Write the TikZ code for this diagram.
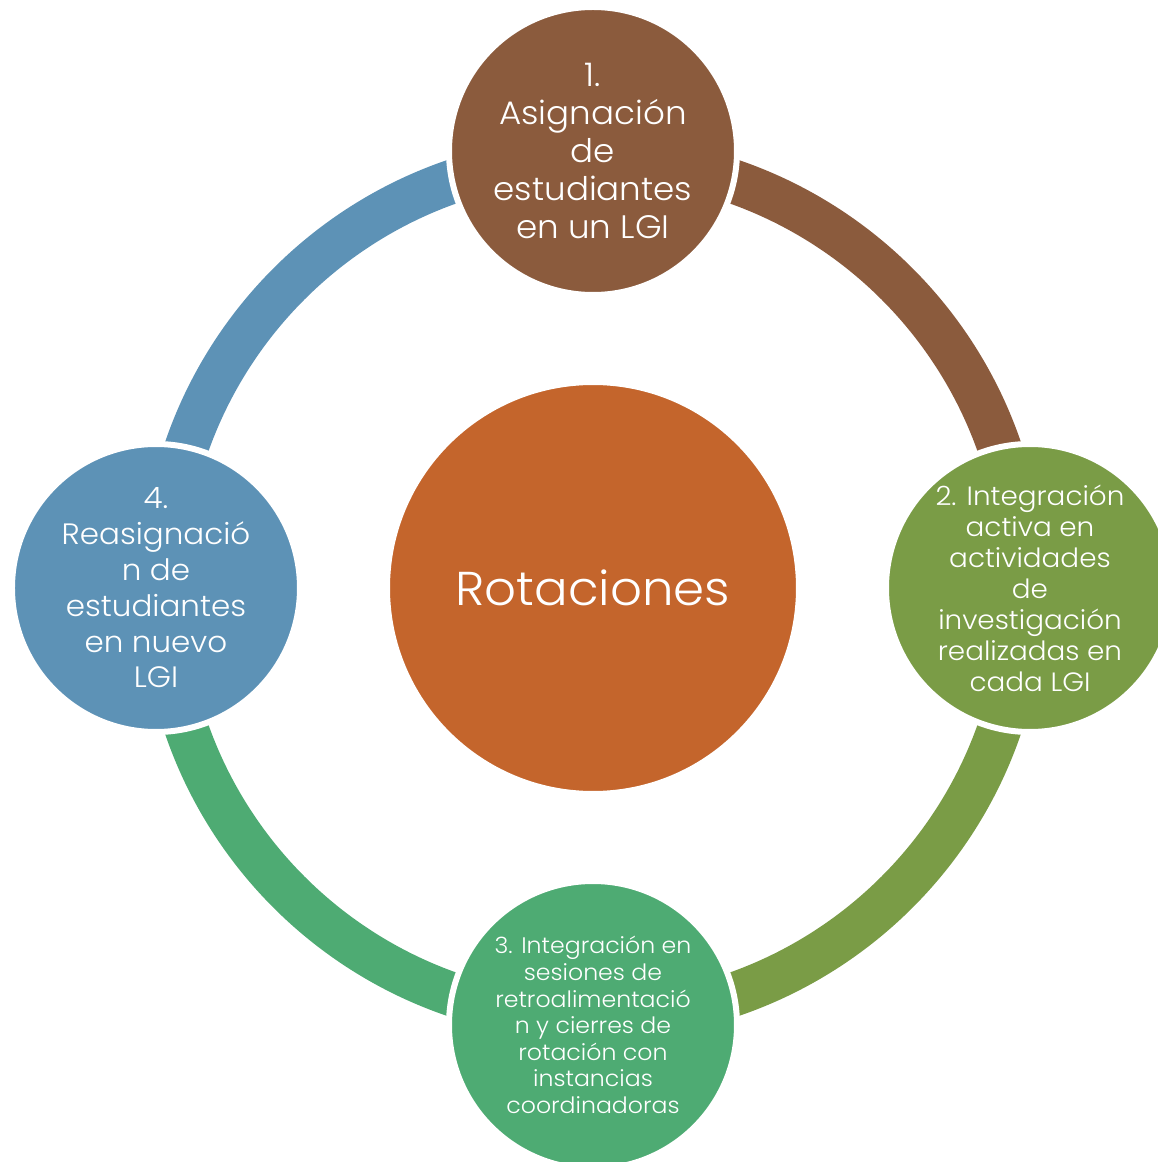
\documentclass[tikz,border=0pt]{standalone}
\usepackage{fontspec}
\setmainfont{Poppins}[UprightFont=* Light, FakeStretch=1.05]
\usetikzlibrary{calc}

\definecolor{rotbrown}{HTML}{8B5B3D}
\definecolor{rotolive}{HTML}{7A9C46}
\definecolor{rotgreen}{HTML}{4EAB73}
\definecolor{rotblue}{HTML}{5D92B6}
\definecolor{rotorange}{HTML}{C4652C}

\tikzset{
  stage/.style={circle, draw=white, line width=6pt, minimum size=288pt, inner sep=0pt, text=white, align=center},
  ringarc/.style={line width=44pt},
}

\begin{document}
\begin{tikzpicture}[x=1pt,y=1pt]
    \useasboundingbox (-593,-574) rectangle (565,588);
    \clip (-593,-574) rectangle (565,588);
    % positions of the four stages
    \coordinate (p1) at (90:437);
    \coordinate (p2) at (0:437);
    \coordinate (p3) at (-90:437);
    \coordinate (p4) at (180:437);
    % ring
    \draw[ringarc, rotbrown] (90:430) arc[start angle=90, end angle=0, radius=430pt];
    \draw[ringarc, rotolive] (0:430) arc[start angle=0, end angle=-90, radius=430pt];
    \draw[ringarc, rotgreen] (-90:430) arc[start angle=-90, end angle=-180, radius=430pt];
    \draw[ringarc, rotblue] (180:430) arc[start angle=180, end angle=90, radius=430pt];
    % centre
    \node[circle, fill=rotorange, draw=white, line width=4pt, minimum size=410pt, text=white,
          font=\fontsize{47.5}{52}\selectfont] (hub) at (0,0) {Rotaciones};
    % stages
    \node[stage, fill=rotbrown, font=\fontsize{32.5}{38}\selectfont] (s1) at (p1)
        {1.\\Asignación\\de\\estudiantes\\en un LGI};
    \node[stage, fill=rotolive, font=\fontsize{26.5}{31}\selectfont] (s2) at (p2)
        {2. Integración\\activa en\\actividades\\de\\investigación\\realizadas en\\cada LGI};
    \node[stage, fill=rotgreen, font=\fontsize{22.5}{26.6}\selectfont] (s3) at (p3)
        {3. Integración en\\sesiones de\\retroalimentació\\n y cierres de\\rotación con\\instancias\\coordinadoras};
    \node[stage, fill=rotblue, font=\fontsize{29.5}{35.8}\selectfont] (s4) at (p4)
        {4.\\Reasignació\\n de\\estudiantes\\en nuevo\\LGI};
\end{tikzpicture}
\end{document}
